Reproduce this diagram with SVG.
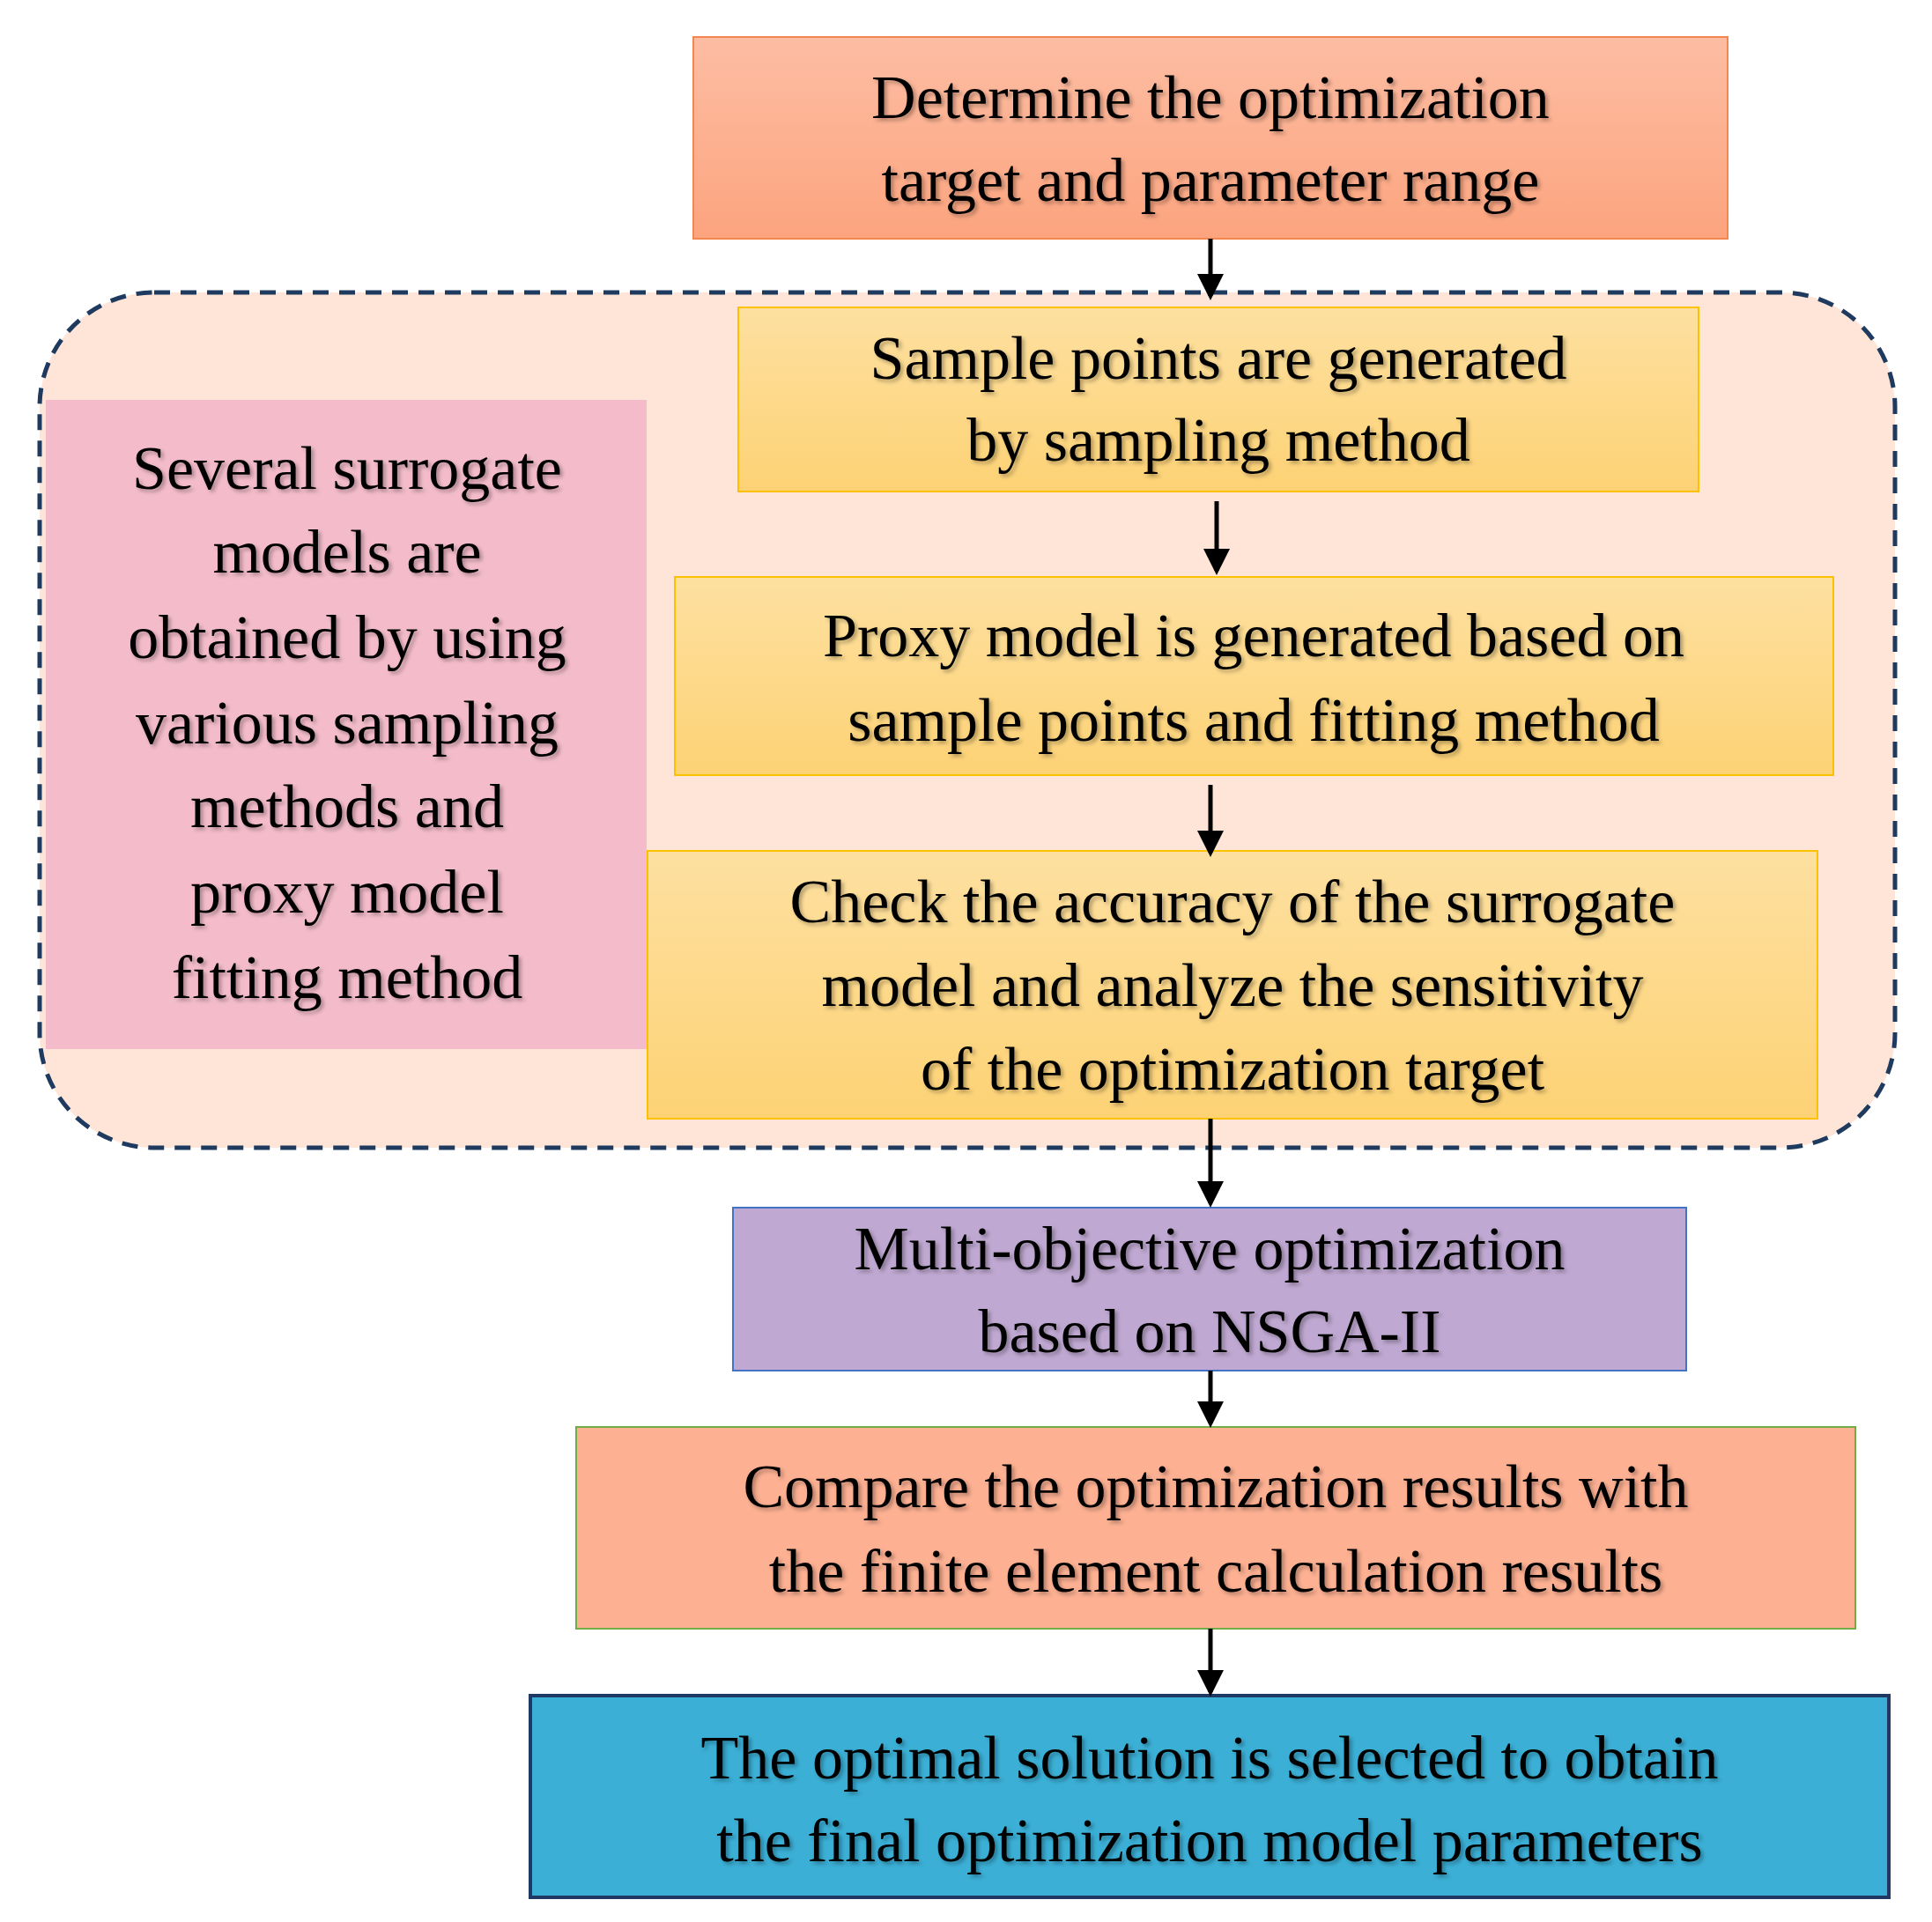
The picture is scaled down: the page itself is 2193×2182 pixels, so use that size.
<svg xmlns="http://www.w3.org/2000/svg" width="2193" height="2182" viewBox="0 0 2193 2182">
<style>
text{font-family:"Liberation Serif","DejaVu Serif",serif;font-size:70px;fill:#000;text-anchor:middle;filter:url(#sh)}
.ar{stroke:#000;stroke-width:5;fill:none;marker-end:url(#ah)}
</style>
<defs>
<filter id="sh" x="-5%" y="-20%" width="110%" height="140%"><feDropShadow dx="3" dy="3" stdDeviation="2" flood-color="#000" flood-opacity="0.3"/></filter>
<linearGradient id="gO" x1="0" y1="0" x2="0" y2="1"><stop offset="0" stop-color="#fdbda3"/><stop offset="1" stop-color="#fca47e"/></linearGradient>
<linearGradient id="gY" x1="0" y1="0" x2="0" y2="1"><stop offset="0" stop-color="#fde0a0"/><stop offset="1" stop-color="#fdd275"/></linearGradient>
<marker id="ah" markerWidth="6" markerHeight="6" refX="5" refY="3" orient="auto" markerUnits="strokeWidth"><path d="M0,0L6,3L0,6z" fill="#000"/></marker>
</defs>
<rect width="2193" height="2182" fill="#fff"/>
<g id="container"><rect x="45" y="332" width="2106" height="971" rx="130" fill="#fee5d7" stroke="#1f3a5f" stroke-width="5" stroke-dasharray="18,12"/></g>
<g id="n1"><rect x="787" y="42" width="1174" height="229" fill="url(#gO)" stroke="#f4874f" stroke-width="2"/>
<text x="1374" y="134">Determine the optimization</text><text x="1374" y="228">target and parameter range</text></g>
<g id="side"><rect x="52" y="454" width="682" height="737" fill="#f4bccb"/>
<text x="394" y="555">Several surrogate</text><text x="394" y="650">models are</text><text x="394" y="747">obtained by using</text><text x="394" y="844">various sampling</text><text x="394" y="939">methods and</text><text x="394" y="1036">proxy model</text><text x="394" y="1133">fitting method</text></g>
<g id="n2"><rect x="838" y="349" width="1090" height="209" fill="url(#gY)" stroke="#fcc200" stroke-width="2"/>
<text x="1383" y="430">Sample points are generated</text><text x="1383" y="523">by sampling method</text></g>
<g id="n3"><rect x="766" y="655" width="1315" height="225" fill="url(#gY)" stroke="#fcc200" stroke-width="2"/>
<text x="1423" y="745">Proxy model is generated based on</text><text x="1423" y="841">sample points and fitting method</text></g>
<g id="n4"><rect x="735" y="966" width="1328" height="304" fill="url(#gY)" stroke="#fcc200" stroke-width="2"/>
<text x="1399" y="1047">Check the accuracy of the surrogate</text><text x="1399" y="1142">model and analyze the sensitivity</text><text x="1399" y="1237">of the optimization target</text></g>
<g id="n5"><rect x="832" y="1371" width="1082" height="185" fill="#bfa8d1" stroke="#4472c4" stroke-width="2"/>
<text x="1373" y="1441">Multi-objective optimization</text><text x="1373" y="1535">based on NSGA-II</text></g>
<g id="n6"><rect x="654" y="1620" width="1452" height="229" fill="#fdb092" stroke="#70ad47" stroke-width="2"/>
<text x="1380" y="1711">Compare the optimization results with</text><text x="1380" y="1807">the finite element calculation results</text></g>
<g id="n7"><rect x="602" y="1925" width="1542" height="229" fill="#3bafd6" stroke="#1f3864" stroke-width="4"/>
<text x="1373" y="2019">The optimal solution is selected to obtain</text><text x="1373" y="2113">the final optimization model parameters</text></g>
<g id="connectors">
<line class="ar" x1="1374" y1="271" x2="1374" y2="336"/>
<line class="ar" x1="1381" y1="569" x2="1381" y2="648"/>
<line class="ar" x1="1374" y1="891" x2="1374" y2="968"/>
<line class="ar" x1="1374" y1="1270" x2="1374" y2="1366"/>
<line class="ar" x1="1374" y1="1556" x2="1374" y2="1616"/>
<line class="ar" x1="1374" y1="1849" x2="1374" y2="1921"/>
</g>
</svg>
